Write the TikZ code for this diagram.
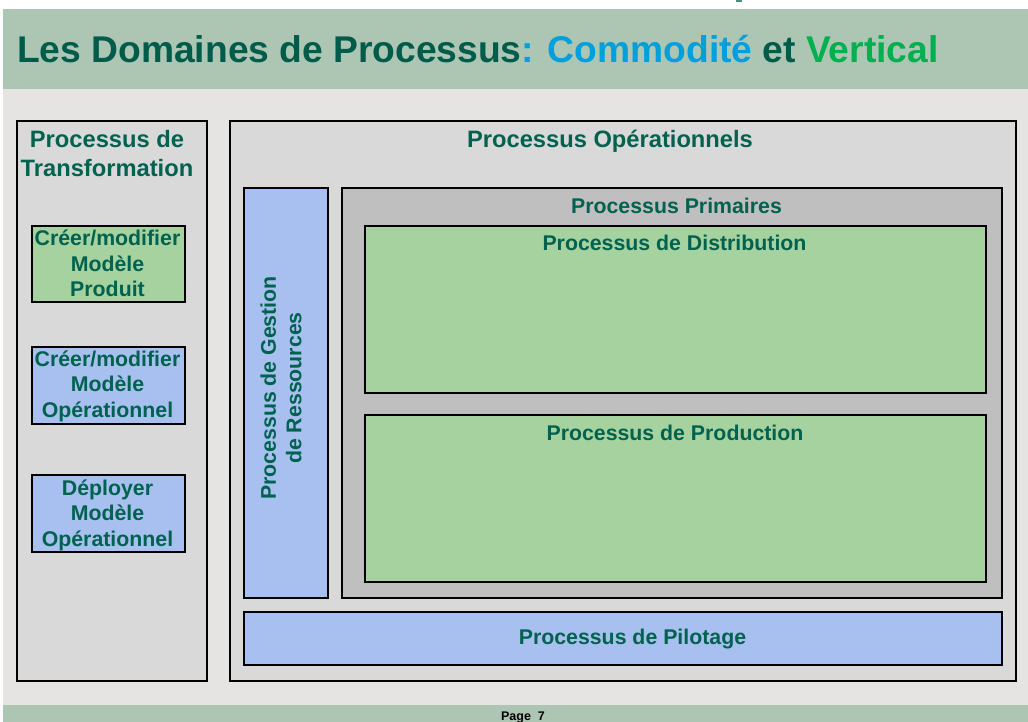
\documentclass[tikz,border=0pt]{standalone}
\usepackage{fontspec}
\setmainfont{Liberation Sans}
\definecolor{bandgreen}{HTML}{ADC5B3}
\definecolor{bodygray}{HTML}{E5E4E2}
\definecolor{panelgray}{HTML}{D9D9D9}
\definecolor{primgray}{HTML}{BFBFBF}
\definecolor{procgreen}{HTML}{A6D2A0}
\definecolor{procblue}{HTML}{A8C0F0}
\definecolor{tealtext}{HTML}{00624F}
\definecolor{titleteal}{HTML}{005C4A}
\definecolor{titlecyan}{HTML}{00A0DC}
\definecolor{titlegreen}{HTML}{00B04F}
\begin{document}
\begin{tikzpicture}[x=1pt,y=-1pt,
  box/.style={draw=black, line width=2pt, inner sep=0pt, anchor=north west},
  hdr/.style={text=tealtext, font=\bfseries\fontsize{21.3}{25.5}\selectfont, inner sep=0pt, align=center},
  bighdr/.style={text=tealtext, font=\bfseries\fontsize{23.7}{29}\selectfont, inner sep=0pt, align=center}]
\useasboundingbox (0,0) rectangle (1028,722);
% page background, title band, body and footer band
\fill[white] (0,0) rectangle (1028,722);
\fill[titleteal!70!white] (736,0) rectangle (742,2);
\fill[bandgreen] (3,9) rectangle (1028,89);
\fill[bodygray] (3,89) rectangle (1028,705);
\fill[bandgreen] (3,705) rectangle (1028,722);

% title
\node[anchor=base west, inner sep=0pt, font=\bfseries\fontsize{37.2}{40}\selectfont] (title) at (17,63)
  {\textcolor{titleteal}{Les Domaines de Processus}\textcolor{titlecyan}{: Commodité} \textcolor{titleteal}{et} \textcolor{titlegreen}{Vertical}};

% footer
\node[anchor=base, inner sep=0pt, font=\bfseries\fontsize{12.5}{14}\selectfont] (page) at (523,720.5) {Page\ \ 7};

% left panel: transformation processes (multi-line labels are placed by their last baseline)
\node[box, fill=panelgray, minimum width=190pt, minimum height=560pt] (transf) at (16,120) {};
\node[bighdr, anchor=base] (ttransf) at (107,176.5) {Processus de\\Transformation};

\node[box, fill=procgreen, minimum width=153pt, minimum height=76pt] (mprod) at (31,225) {};
\node[hdr, anchor=base] (tmprod) at (107.5,296.5) {Créer/modifier\\Modèle\\Produit};

\node[box, fill=procblue, minimum width=153pt, minimum height=77pt] (mop) at (31,346) {};
\node[hdr, anchor=base] (tmop) at (107.5,417) {Créer/modifier\\Modèle\\Opérationnel};

\node[box, fill=procblue, minimum width=153pt, minimum height=77pt] (dep) at (31,474) {};
\node[hdr, anchor=base] (tdep) at (107.5,546) {Déployer\\Modèle\\Opérationnel};

% right panel: operational processes
\node[box, fill=panelgray, minimum width=786pt, minimum height=560pt] (oper) at (229,120) {};
\node[bighdr, anchor=base] (toper) at (610,147.5) {Processus Opérationnels};

\node[box, fill=procblue, minimum width=84pt, minimum height=410pt] (res) at (243,187) {};
\node[hdr, rotate=90] (tres) at (281,388) {Processus de Gestion\\de Ressources};

\node[box, fill=primgray, minimum width=660pt, minimum height=410pt] (prim) at (341,187) {};
\node[hdr, anchor=base] (tprim) at (676.5,214) {Processus Primaires};

\node[box, fill=procgreen, minimum width=621pt, minimum height=167pt] (dist) at (364,225) {};
\node[hdr, anchor=base] (tdist) at (674.5,251) {Processus de Distribution};

\node[box, fill=procgreen, minimum width=621pt, minimum height=167pt] (prod) at (364,414) {};
\node[hdr, anchor=base] (tprod) at (675,440) {Processus de Production};

\node[box, fill=procblue, minimum width=758pt, minimum height=53pt] (pilot) at (243,611) {};
\node[hdr, anchor=base] (tpilot) at (632.5,644) {Processus de Pilotage};
\end{tikzpicture}
\end{document}
